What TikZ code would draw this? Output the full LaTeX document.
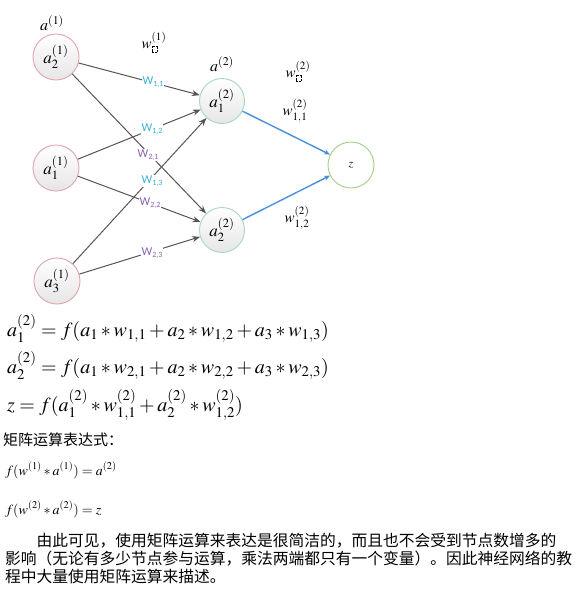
\documentclass[tikz,border=0pt]{standalone}
\usepackage{mathptmx}
\usepackage[no-math]{fontspec}
\setmainfont{Liberation Serif}
\newfontfamily\cjk{Noto Sans CJK SC}
\newfontfamily\carl{Carlito}
\usetikzlibrary{arrows.meta}
\definecolor{inred}{HTML}{E2A4A8}
\definecolor{hidgreen}{HTML}{A6D9BC}
\definecolor{outgreen}{HTML}{9FCF85}
\definecolor{nodegray}{HTML}{E6E6E6}
\definecolor{edgegray}{HTML}{555555}
\definecolor{blueedge}{HTML}{4A90DC}
\definecolor{wcyan}{HTML}{3AB2D6}
\definecolor{wpurple}{HTML}{8A62B4}
\newcommand{\phb}{\tikz[baseline=0pt]\draw[densely dotted,line width=0.4pt,black] (0pt,0pt) rectangle (5.5pt,6pt);}
\tikzset{
  innode/.style={circle, draw=inred, line width=0.9pt, minimum size=46pt, inner sep=0pt,
    top color=white, bottom color=nodegray, font=\fontsize{17}{17}\selectfont},
  hidnode/.style={circle, draw=hidgreen, line width=0.9pt, minimum size=45pt, inner sep=0pt,
    top color=white, bottom color=nodegray, font=\fontsize{17}{17}\selectfont},
  outnode/.style={circle, draw=outgreen, line width=0.9pt, minimum size=46pt, inner sep=0pt,
    fill=white, font=\fontsize{12}{12}\selectfont},
  edg/.style={draw=edgegray, line width=1pt, -{Stealth[length=8pt,width=6pt]}},
  bedg/.style={draw=blueedge, line width=1.4pt, -{Stealth[length=6pt,width=5pt]}},
  wlab/.style={font=\carl\fontsize{12}{12}\selectfont, inner sep=0.6pt, fill=white},
  mlab/.style={font=\fontsize{16}{16}\selectfont, inner sep=0pt},
  wml/.style={font=\fontsize{15}{15}\selectfont, inner sep=0pt},
  bigeq/.style={anchor=base west, inner sep=0pt, font=\fontsize{20}{24}\selectfont},
  smeq/.style={anchor=base west, inner sep=0pt, font=\fontsize{14}{16}\selectfont},
  cjkline/.style={anchor=west, inner sep=0pt, font=\cjk\fontsize{15.75}{18}\selectfont},
}
\newcommand{\Wl}[2]{W\raisebox{-1.5pt}{\fontsize{8}{8}\selectfont #1,#2}}
\begin{document}
\begin{tikzpicture}[x=1pt,y=-1pt]
\fill[white] (0,0) rectangle (579,590);
\useasboundingbox (0,0) rectangle (579,590);
% nodes
\node[innode] (i2) at (56,57) {$a_2^{(1)}$};
\node[innode] (i1) at (56,168) {$a_1^{(1)}$};
\node[innode] (i3) at (57,281) {$a_3^{(1)}$};
\node[hidnode] (h1) at (222,101) {$a_1^{(2)}$};
\node[hidnode] (h2) at (222,230) {$a_2^{(2)}$};
\node[outnode] (z) at (351,165) {$z$};
% layer labels
\node[mlab] (la1) at (52,23) {$a^{(1)}$};
\node[mlab] (la2) at (222,64) {$a^{(2)}$};
\node[wml] (lw1) at (154,42) {$w^{(1)}_{\hbox{\phb}}$};
\node[wml] (lw2) at (298,71) {$w^{(2)}_{\hbox{\phb}}$};
% edges
\draw[edg] (i2) -- (h1);
\draw[edg] (i2) -- (h2);
\draw[edg] (i1) -- (h1);
\draw[edg] (i1) -- (h2);
\draw[edg] (i3) -- (h1);
\draw[edg] (i3) -- (h2);
\draw[bedg] (h1) -- (z);
\draw[bedg] (h2) -- (z);
% edge labels
\node[wlab, text=wcyan] (w11) at (153,82) {\Wl{1}{1}};
\node[wlab, text=wcyan] (w12) at (152,129) {\Wl{1}{2}};
\node[wlab, text=wpurple] (w21) at (148,155) {\Wl{2}{1}};
\node[wlab, text=wcyan] (w13) at (152,181) {\Wl{1}{3}};
\node[wlab, text=wpurple] (w22) at (150,203) {\Wl{2}{2}};
\node[wlab, text=wpurple] (w23) at (152,253) {\Wl{2}{3}};
\node[wml] (lw211) at (295,111) {$w^{(2)}_{1,1}$};
\node[wml] (lw212) at (297,218) {$w^{(2)}_{1,2}$};
% equations
\node[bigeq] (e1) at (7,336) {$a_1^{(2)} = f(a_1 * w_{1,1} + a_2 * w_{1,2} + a_3 * w_{1,3})$};
\node[bigeq] (e2) at (7,373) {$a_2^{(2)} = f(a_1 * w_{2,1} + a_2 * w_{2,2} + a_3 * w_{2,3})$};
\node[bigeq] (e3) at (7,411) {$z = f(a_1^{(2)} * w_{1,1}^{(2)} + a_2^{(2)} * w_{1,2}^{(2)})$};
\node[cjkline, font=\cjk\fontsize{15}{18}\selectfont] (hd) at (3,440) {矩阵运算表达式：};
\node[smeq] (s1) at (5,475) {$f(w^{(1)} * a^{(1)}) = a^{(2)}$};
\node[smeq] (s2) at (5,514) {$f(w^{(2)} * a^{(2)}) = z$};
\node[cjkline] (p1) at (36.5,541) {由此可见，使用矩阵运算来表达是很简洁的，而且也不会受到节点数增多的};
\node[cjkline] (p2) at (5,559) {影响（无论有多少节点参与运算，乘法两端都只有一个变量）。因此神经网络的教};
\node[cjkline] (p3) at (5,577) {程中大量使用矩阵运算来描述。};
\end{tikzpicture}
\end{document}
